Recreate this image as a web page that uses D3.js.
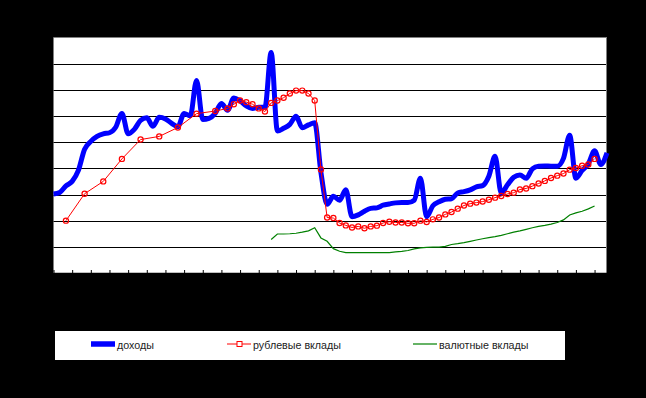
<!DOCTYPE html>
<html lang="ru">
<head>
<meta charset="UTF-8">
<title>Доходы и вклады</title>
<style>
  html, body { margin: 0; padding: 0; background: #000; }
  svg { display: block; }
  text { font-family: "Liberation Sans", Arial, sans-serif; }
</style>
</head>
<body>
<div id="chart"></div>
<script src="https://d3js.org/d3.v7.min.js"></script>
<script>
// monthly index 0..89
const months = d3.range(0, 90);

// доходы, one value per month
const incomeValues = [
  30.2, 30.8, 33.3, 35.0, 39.2, 47.3, 50.3, 52.2, 53.2, 53.6,
  55.7, 61.0, 53.2, 54.9, 58.3, 59.3, 56.1, 59.5, 58.9, 57.2,
  55.9, 61.0, 60.1, 73.6, 58.7, 59.1, 61.0, 64.8, 62.2, 66.9,
  65.8, 63.9, 62.9, 63.3, 63.3, 84.3, 54.3, 55.3, 56.8, 59.9,
  55.5, 56.6, 57.4, 38.5, 26.3, 29.3, 27.8, 31.8, 21.5, 22.2,
  23.6, 24.7, 24.9, 25.9, 26.4, 26.8, 26.9, 26.9, 27.8, 36.2,
  21.5, 25.7, 27.2, 28.2, 28.4, 30.6, 31.1, 31.8, 32.9, 33.4,
  37.0, 44.6, 30.5, 33.7, 36.6, 37.5, 36.2, 39.8, 40.8, 40.9,
  40.8, 40.8, 43.8, 52.6, 36.2, 39.2, 41.7, 46.7, 41.5, 45.9
];

// рублевые вклады: quarterly first, then monthly
const rubleMonths = [2, 5, 8, 11, 14, 17, 20, 23, 26].concat(d3.range(28, 88));
const rubleValues = [
  20.0, 30.3, 35.0, 43.6, 51.0, 52.2, 55.6, 60.9, 61.9,
  62.9, 64.5, 65.9, 65.3, 64.5, 62.9, 61.7, 65.0, 65.9, 67.0,
  68.6, 69.7, 69.7, 68.6, 65.9, 39.6, 21.2, 21.0, 19.1, 18.2,
  17.4, 17.8, 17.1, 17.8, 18.1, 19.1, 19.6, 19.3, 19.3, 19.0,
  19.0, 20.0, 19.5, 20.5, 21.2, 22.4, 23.3, 24.6, 25.8, 26.5,
  26.9, 27.3, 28.0, 28.8, 29.4, 30.2, 30.7, 31.9, 32.3, 33.2,
  34.2, 35.2, 36.3, 37.2, 38.0, 39.5, 40.1, 41.0, 41.5, 43.6
];

// валютные вклады, monthly from month 35
const currencyMonths = d3.range(35, 88);
const currencyValues = [
  12.8, 14.9, 14.9, 15.0, 15.2, 15.6, 16.1, 17.3, 13.4, 12.1,
  9.3, 8.3, 7.8, 7.8, 7.8, 7.8, 7.8, 7.8, 7.8, 7.8,
  8.1, 8.3, 8.6, 9.2, 9.6, 9.8, 9.9, 9.9, 10.2, 10.9,
  11.2, 11.6, 12.1, 12.6, 13.1, 13.5, 13.9, 14.4, 15.0, 15.6,
  16.1, 16.7, 17.3, 17.8, 18.2, 18.7, 19.3, 20.3, 22.2, 23.0,
  23.6, 24.5, 25.6
];

const seriesNames = ["доходы", "рублевые вклады", "валютные вклады"];
const gridValues = [10, 20, 30, 40, 50, 60, 70, 80];
const xTickMonths = d3.range(0, 88, 3);

const W = 646, H = 398;
const plot = { left: 53.5, right: 607, top: 37.5, bottom: 273 };

const svg = d3.select("#chart").append("svg")
    .attr("width", W)
    .attr("height", H);

svg.append("rect").attr("width", W).attr("height", H).attr("fill", "#000");

const x = d3.scaleLinear().domain([0, 89]).range([plot.left, plot.right]);
const y = d3.scaleLinear().domain([0, 90]).range([plot.bottom, plot.top]);

// plot area
svg.append("rect")
    .attr("x", plot.left)
    .attr("y", plot.top)
    .attr("width", plot.right - plot.left)
    .attr("height", plot.bottom - plot.top)
    .attr("fill", "#fff");

// gridlines
svg.append("g")
    .selectAll("line")
    .data(gridValues)
    .join("line")
    .attr("x1", plot.left)
    .attr("x2", plot.right)
    .attr("y1", d => Math.round(y(d)) + 0.5)
    .attr("y2", d => Math.round(y(d)) + 0.5)
    .attr("stroke", "#000")
    .attr("stroke-width", 1.2);

// gray border top / right
svg.append("path")
    .attr("d", `M${plot.left},${plot.top}H${plot.right - 0.5}V${plot.bottom}`)
    .attr("fill", "none")
    .attr("stroke", "#808080")
    .attr("stroke-width", 1);

// x axis with ticks every 3 months
const xAxis = d3.axisBottom(x)
    .tickValues(xTickMonths)
    .tickSizeInner(-3)
    .tickSizeOuter(0)
    .tickFormat("");
svg.append("g")
    .attr("transform", `translate(0,${plot.bottom})`)
    .call(xAxis)
    .call(g => g.selectAll("line").attr("stroke", "#000"))
    .call(g => g.select(".domain").attr("stroke", "#000").attr("stroke-width", 1.5));

const line = d3.line()
    .x(d => x(d[0]))
    .y(d => y(d[1]));

const income = months.map((m, i) => [m, incomeValues[i]]);
const ruble = rubleMonths.map((m, i) => [m, rubleValues[i]]);
const currency = currencyMonths.map((m, i) => [m, currencyValues[i]]);

svg.append("path")
    .datum(currency)
    .attr("d", line)
    .attr("fill", "none")
    .attr("stroke", "#008000")
    .attr("stroke-width", 1.2);

// income line is smoothed like the original
svg.append("path")
    .datum(income)
    .attr("d", line.curve(d3.curveMonotoneX))
    .attr("fill", "none")
    .attr("stroke", "#0000ff")
    .attr("stroke-width", 5)
    .attr("stroke-linejoin", "round")
    .attr("stroke-linecap", "butt");
line.curve(d3.curveLinear);

svg.append("path")
    .datum(ruble)
    .attr("d", line)
    .attr("fill", "none")
    .attr("stroke", "#ff0000")
    .attr("stroke-width", 1);

svg.append("g")
    .selectAll("circle")
    .data(ruble)
    .join("circle")
    .attr("cx", d => x(d[0]))
    .attr("cy", d => y(d[1]))
    .attr("r", 2.6)
    .attr("fill", "none")
    .attr("stroke", "#ff0000")
    .attr("stroke-width", 1.2);

// legend
const legend = svg.append("g");
legend.append("rect")
    .attr("x", 55).attr("y", 331)
    .attr("width", 510).attr("height", 29)
    .attr("fill", "#fff");

const legendItems = [
  { name: seriesNames[0], x0: 91, color: "#0000ff", width: 5.5, marker: false },
  { name: seriesNames[1], x0: 227, color: "#ff0000", width: 1, marker: true },
  { name: seriesNames[2], x0: 413, color: "#008000", width: 1.2, marker: false }
];
const ly = 344;
legendItems.forEach(it => {
  legend.append("line")
      .attr("x1", it.x0).attr("x2", it.x0 + 24)
      .attr("y1", ly).attr("y2", ly)
      .attr("stroke", it.color)
      .attr("stroke-width", it.width);
  if (it.marker) {
    legend.append("rect")
        .attr("x", it.x0 + 10).attr("y", ly - 2.5)
        .attr("width", 5).attr("height", 5)
        .attr("fill", "#fff")
        .attr("stroke", it.color);
  }
  legend.append("text")
      .attr("x", it.x0 + 26)
      .attr("y", ly + 5)
      .attr("font-size", 10.7)
      .attr("fill", "#222")
      .text(it.name);
});
</script>
</body>
</html>
